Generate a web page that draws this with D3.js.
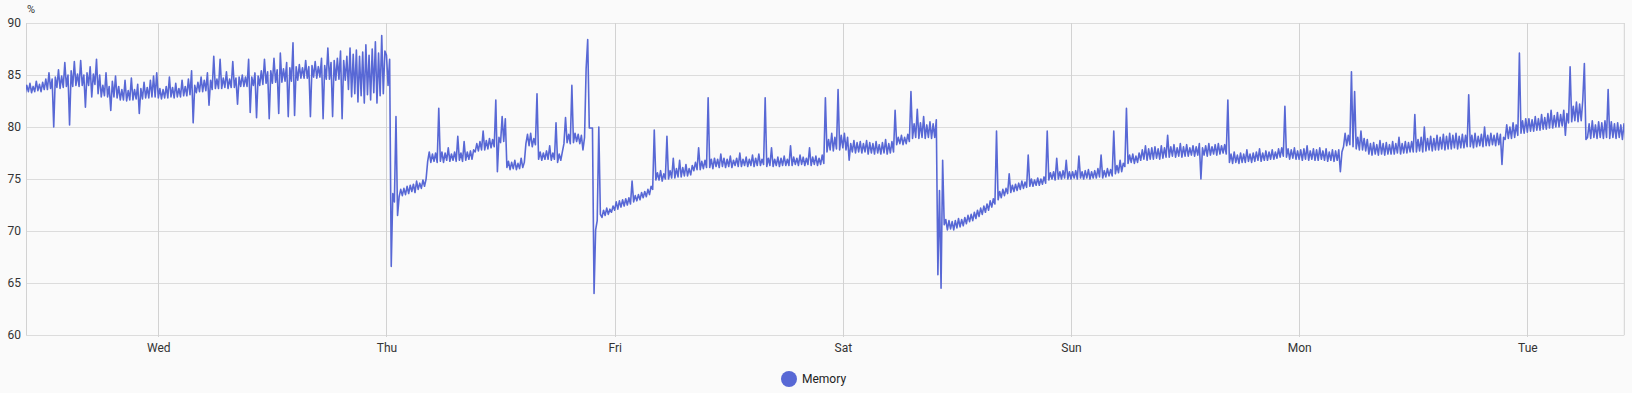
<!DOCTYPE html>
<html>
<head>
<meta charset="utf-8">
<script src="https://cdn.jsdelivr.net/npm/d3@7"></script>
<style>
  body { margin: 0; background: #fafafa; }
  svg { display: block; font-family: Roboto, "Noto Sans", sans-serif; }
</style>
</head>
<body>
<svg id="chart" width="1632" height="393"></svg>
<script>
// readings every 10 minutes
const sampleMinutes = 10;
const seriesStart = new Date(2024, 0, 2, 10, 0);   // Tue 10:00
const domainStart = new Date(2024, 0, 2, 10, 5);
const domainEnd = new Date(2024, 0, 9, 10, 12);
const yTicks = [60, 65, 70, 75, 80, 85, 90];
const seriesName = 'Memory';
const unitLabel = '%';

const tue1 = [
  83.2, 84.0, 83.4, 84.2, 83.3, 83.9, 83.4, 84.4, 83.5, 84.1, 83.4, 84.3, 83.6, 84.6, 83.6, 85.2, 83.7, 84.6, 80.0, 84.8,
  83.8, 85.5, 83.7, 84.9, 83.8, 86.2, 83.9, 85.0, 80.2, 85.4, 83.9, 86.3, 84.0, 85.1, 83.9, 86.4, 84.0, 85.0, 81.9, 85.2,
  84.0, 85.8, 82.9, 85.1, 84.1, 86.5, 83.2, 85.0, 82.9, 84.0, 83.0, 85.2, 82.9, 83.9, 81.6, 84.4, 82.9, 84.9, 82.8, 83.9,
  82.6, 83.6, 82.6, 84.5, 82.5, 83.5, 82.6, 84.7, 82.6, 83.6, 82.7, 84.1, 81.3, 83.7, 82.7, 84.3, 82.8, 83.8, 82.8, 84.5,
  82.9, 84.9, 82.9, 85.2];
const wed = [
  82.8, 83.7, 82.7, 83.6, 82.8, 83.9, 82.8, 84.8, 82.9, 83.8, 82.8, 84.2, 82.9, 83.7, 82.9, 84.5, 83.0, 83.9, 83.0, 84.6,
  83.1, 85.4, 80.4, 84.0, 83.3, 84.3, 83.4, 84.8, 83.4, 84.5, 83.5, 85.2, 82.1, 84.5, 83.6, 86.8, 83.7, 84.6, 83.7, 86.5,
  83.7, 84.7, 83.8, 85.3, 83.7, 84.6, 83.8, 86.3, 83.8, 84.7, 82.2, 84.8, 83.9, 85.0, 83.9, 84.8, 83.9, 86.5, 81.4, 84.8,
  84.0, 85.2, 80.9, 84.9, 84.0, 85.4, 84.1, 86.5, 84.2, 85.3, 80.8, 85.4, 84.2, 86.6, 84.3, 85.5, 81.3, 87.1, 84.3, 85.6,
  84.4, 86.2, 81.0, 85.7, 84.4, 88.1, 81.1, 85.8, 84.5, 86.0, 84.7, 85.7, 84.7, 86.4, 84.7, 85.8, 81.0, 85.9, 84.8, 86.3,
  84.7, 85.8, 84.8, 86.6, 80.8, 85.9, 84.6, 87.6, 84.6, 86.2, 81.0, 86.4, 84.5, 86.6, 84.6, 87.3, 80.8, 86.4, 84.5, 86.8,
  83.6, 87.6, 82.9, 87.0, 83.2, 87.4, 82.4, 86.8, 83.0, 87.2, 82.3, 87.9, 83.1, 86.9, 82.6, 87.5, 83.3, 88.2, 82.3, 87.1,
  83.0, 88.8, 83.2, 87.3];
const thu = [
  86.9, 84.0, 86.5, 66.6, 73.6, 72.8, 81.0, 71.5, 73.3, 74.0, 73.4, 74.1, 73.5, 74.3, 73.6, 74.4, 73.8, 74.5, 73.7, 74.8,
  74.0, 74.6, 74.1, 74.9, 74.3, 75.0, 76.7, 77.6, 76.6, 77.4, 76.7, 77.5, 76.6, 81.8, 76.7, 77.6, 76.6, 77.5, 76.8, 78.0,
  76.7, 77.4, 76.8, 77.6, 76.7, 79.1, 76.8, 77.5, 76.7, 78.6, 76.8, 77.6, 76.9, 77.7, 76.9, 77.8, 77.6, 78.4, 77.7, 78.6,
  77.8, 79.6, 77.8, 78.7, 77.9, 78.9, 78.0, 78.8, 78.1, 82.6, 75.7, 79.0, 78.5, 81.0, 78.6, 80.8, 76.1, 76.7, 75.9, 76.6,
  76.0, 76.8, 75.9, 76.5, 76.0, 77.0, 76.1, 76.6, 78.4, 79.3, 78.2, 79.4, 78.1, 78.9, 78.3, 83.2, 76.9, 77.6, 76.8, 77.5,
  76.9, 77.7, 76.9, 78.2, 76.8, 77.5, 76.9, 80.4, 76.6, 77.4, 76.8, 77.6, 78.4, 80.9, 78.5, 79.3, 78.4, 84.0, 78.5, 79.4,
  78.6, 79.3, 78.4, 79.2, 77.8, 79.0, 85.6, 88.4, 79.9, 79.9, 79.9, 64.0, 70.1, 71.0, 80.0, 71.6, 71.3, 72.0, 71.5, 72.2,
  71.6, 72.1, 71.8, 72.4];
const fri = [
  72.0, 72.8, 72.1, 72.9, 72.3, 73.0, 72.4, 73.1, 72.5, 73.2, 72.6, 74.8, 72.8, 73.4, 72.9, 73.5, 73.0, 73.7, 73.2, 73.8,
  73.3, 74.0, 73.5, 74.3, 74.0, 79.7, 74.9, 75.6, 74.9, 75.8, 74.8, 75.5, 75.0, 79.1, 75.0, 75.8, 75.1, 77.0, 75.1, 76.0,
  75.2, 76.8, 75.2, 76.1, 75.3, 76.4, 75.3, 76.0, 75.4, 76.3, 75.8, 76.6, 75.9, 78.0, 75.9, 76.7, 76.0, 76.8, 76.1, 82.8,
  76.1, 76.9, 76.0, 77.0, 76.2, 76.9, 76.1, 77.4, 76.2, 77.0, 76.1, 76.9, 76.2, 77.2, 76.1, 76.8, 76.3, 77.0, 76.2, 77.5,
  76.2, 76.9, 76.3, 77.1, 76.2, 76.9, 76.3, 77.3, 76.2, 77.0, 76.3, 77.4, 76.3, 76.9, 76.4, 82.8, 76.2, 77.0, 76.3, 78.0,
  76.2, 76.9, 76.3, 77.1, 76.2, 77.0, 76.3, 77.2, 76.3, 76.9, 76.3, 78.2, 76.3, 77.1, 76.4, 77.0, 76.3, 77.3, 76.4, 77.1,
  76.3, 77.0, 76.4, 78.0, 76.3, 77.1, 76.4, 77.2, 76.3, 77.0, 76.4, 77.3, 76.5, 82.8, 77.6, 78.8, 77.8, 79.4, 77.7, 79.0,
  77.9, 83.6, 77.8, 79.2];
const sat = [
  78.0, 79.4, 77.8, 79.0, 76.8, 78.4, 77.6, 78.7, 77.5, 78.5, 77.6, 78.6, 77.5, 78.4, 77.6, 78.7, 77.4, 78.5, 77.5, 78.4,
  77.4, 78.6, 77.5, 78.3, 77.4, 78.5, 77.5, 78.8, 77.4, 78.4, 77.5, 78.6, 77.6, 81.6, 78.3, 79.0, 78.4, 79.2, 78.3, 79.0,
  78.4, 79.3, 78.6, 83.4, 78.9, 80.3, 79.0, 81.7, 78.9, 80.4, 79.0, 81.0, 78.9, 80.2, 79.0, 80.5, 78.9, 80.3, 79.0, 80.7,
  65.8, 73.9, 64.5, 76.8, 70.6, 71.1, 70.1, 71.0, 70.2, 70.9, 70.1, 71.0, 70.3, 71.2, 70.4, 71.1, 70.5, 71.3, 70.7, 71.5,
  70.9, 71.6, 71.0, 71.8, 71.2, 72.0, 71.4, 72.2, 71.6, 72.4, 71.8, 72.6, 72.0, 72.9, 72.3, 73.1, 72.6, 79.6, 73.0, 73.8,
  73.2, 74.0, 73.4, 74.1, 73.6, 75.5, 73.7, 74.4, 73.8, 74.5, 73.9, 74.6, 74.0, 74.8, 74.1, 74.7, 74.2, 77.3, 74.3, 75.0,
  74.3, 74.9, 74.4, 75.1, 74.4, 75.0, 74.5, 75.2, 74.6, 79.6, 74.9, 75.6, 75.0, 75.7, 74.9, 77.0, 75.0, 75.7, 75.0, 75.8,
  75.1, 76.8, 75.0, 75.7];
const sun = [
  75.0, 75.7, 75.1, 75.8, 75.0, 77.2, 75.1, 75.7, 75.0, 75.8, 75.1, 75.9, 75.0, 75.7, 75.1, 75.8, 75.1, 76.0, 75.2, 77.3,
  75.1, 75.8, 75.2, 76.0, 75.3, 75.9, 75.3, 79.6, 75.5, 76.3, 75.6, 76.8, 75.7, 76.5, 76.2, 81.8, 76.5, 77.3, 76.6, 77.4,
  76.5, 77.2, 76.6, 77.5, 76.8, 77.8, 76.9, 78.2, 76.8, 77.9, 76.9, 78.0, 76.9, 78.1, 77.0, 77.9, 76.9, 78.2, 77.0, 78.0,
  77.1, 79.2, 77.1, 78.1, 77.2, 78.3, 77.1, 78.0, 77.2, 78.4, 77.1, 78.1, 77.2, 78.3, 77.2, 78.0, 77.3, 78.2, 77.2, 78.1,
  77.3, 78.4, 75.0, 78.0, 77.3, 78.2, 77.2, 78.4, 77.3, 78.1, 77.4, 78.3, 77.3, 78.4, 77.4, 78.2, 77.5, 78.3, 77.4, 82.6,
  76.6, 77.4, 76.5, 77.6, 76.6, 77.3, 76.5, 77.5, 76.6, 77.4, 76.6, 77.8, 76.7, 77.4, 76.6, 77.5, 76.7, 77.6, 76.8, 77.9,
  76.7, 77.5, 76.8, 77.7, 76.8, 77.6, 76.9, 77.8, 76.9, 77.6, 77.0, 77.9, 77.1, 78.0, 77.2, 82.0, 77.1, 77.9, 76.9, 77.8,
  77.0, 78.0, 76.9, 77.7];
const mon = [
  76.9, 77.8, 76.8, 77.9, 76.9, 78.2, 76.8, 77.7, 76.9, 77.9, 76.8, 77.8, 76.8, 78.0, 76.9, 77.7, 76.8, 77.9, 76.7, 77.6,
  76.8, 77.8, 76.7, 77.7, 76.8, 77.8, 75.7, 77.6, 78.1, 79.4, 78.2, 79.2, 78.3, 85.3, 78.1, 83.4, 77.9, 79.0, 77.8, 79.6,
  77.8, 78.9, 77.7, 78.8, 77.4, 78.4, 77.3, 78.5, 77.4, 78.3, 77.3, 78.7, 77.4, 78.4, 77.3, 78.5, 77.4, 78.3, 77.4, 78.6,
  77.4, 78.4, 77.5, 79.0, 77.4, 78.4, 77.5, 78.6, 77.5, 78.5, 77.6, 78.6, 77.6, 81.2, 77.6, 78.8, 77.7, 79.0, 77.6, 80.0,
  77.7, 78.9, 77.8, 79.1, 77.7, 78.9, 77.8, 79.2, 77.8, 79.0, 77.9, 79.3, 77.8, 79.1, 77.9, 79.4, 77.9, 79.2, 78.0, 79.4,
  77.9, 79.1, 78.0, 79.3, 78.0, 79.2, 78.1, 83.1, 78.1, 79.2, 78.0, 79.4, 78.1, 79.1, 78.2, 79.3, 78.1, 80.0, 78.2, 79.2,
  78.2, 79.4, 78.3, 79.2, 78.2, 79.4, 78.3, 79.3, 76.4, 79.0, 78.8, 80.2, 78.9, 80.0, 78.9, 80.4, 79.0, 80.2, 79.2, 87.1,
  79.4, 80.6, 79.4, 80.8];
const tue2 = [
  79.5, 80.8, 79.6, 80.7, 79.6, 81.0, 79.7, 80.8, 79.7, 81.2, 79.8, 80.9, 79.8, 81.3, 79.9, 81.6, 79.9, 81.1, 80.0, 81.4,
  80.0, 81.2, 80.1, 81.6, 79.2, 81.3, 80.4, 85.8, 80.5, 82.0, 80.6, 82.4, 80.5, 82.2, 80.6, 82.6, 86.1, 78.8, 79.0, 80.3,
  78.9, 80.6, 79.0, 80.2, 78.9, 80.5, 79.0, 80.4, 78.9, 80.6, 79.0, 83.6, 78.9, 80.5, 79.0, 80.3, 78.9, 80.4, 79.0, 80.2,
  78.8, 80.3, 78.9, 80.1];

const segments = [tue1, wed, thu, fri, sat, sun, mon, tue2];

// first segment starts at Tue 10:00, the rest at each following midnight
const data = [];
segments.forEach((vals, k) => {
  const start = k === 0 ? seriesStart : d3.timeDay.offset(d3.timeDay.floor(seriesStart), k);
  vals.forEach((v, i) => data.push({ t: d3.timeMinute.offset(start, i * sampleMinutes), v: v }));
});

const color = '#5868d5';
const plotLeft = 26, plotRight = 1624.3, plotTop = 23, plotBottom = 335;

const x = d3.scaleTime().domain([domainStart, domainEnd]).range([plotLeft, plotRight]);
const y = d3.scaleLinear().domain([60, 90]).range([plotBottom, plotTop]);

const svg = d3.select('#chart');

// grid
const grid = svg.append('g');
grid.selectAll('line.h')
  .data(yTicks)
  .join('line')
  .attr('class', 'h')
  .attr('x1', plotLeft).attr('x2', plotRight)
  .attr('y1', d => y(d) + 0.5).attr('y2', d => y(d) + 0.5)
  .attr('stroke', '#dcdcdc');

const days = x.ticks(d3.timeDay.every(1));
grid.selectAll('line.v')
  .data(days)
  .join('line')
  .attr('class', 'v')
  .attr('x1', d => Math.round(x(d)) + 0.5).attr('x2', d => Math.round(x(d)) + 0.5)
  .attr('y1', plotTop).attr('y2', plotBottom + 2)
  .attr('stroke', '#d2d2d2');

grid.append('line')
  .attr('x1', plotLeft + 0.5).attr('x2', plotLeft + 0.5)
  .attr('y1', plotTop).attr('y2', plotBottom)
  .attr('stroke', '#d2d2d2');
grid.append('line')
  .attr('x1', plotRight).attr('x2', plotRight)
  .attr('y1', plotTop).attr('y2', plotBottom)
  .attr('stroke', '#d2d2d2');

// axes (labels only)
const yAxis = svg.append('g')
  .attr('transform', `translate(${plotLeft},0)`)
  .call(d3.axisLeft(y).tickValues(yTicks).tickSize(0).tickPadding(5));
yAxis.select('.domain').remove();
yAxis.selectAll('text').attr('fill', '#333').attr('font-size', 12).attr('font-family', 'Roboto, sans-serif');

const xAxis = svg.append('g')
  .attr('transform', `translate(0,${plotBottom})`)
  .call(d3.axisBottom(x).ticks(d3.timeDay.every(1)).tickFormat(d3.timeFormat('%a')).tickSize(0).tickPadding(8));
xAxis.select('.domain').remove();
xAxis.selectAll('text').attr('fill', '#333').attr('font-size', 12).attr('font-family', 'Roboto, sans-serif');

svg.append('text')
  .attr('x', 27).attr('y', 13)
  .attr('font-size', 11)
  .attr('fill', '#333')
  .text(unitLabel);

// line
svg.append('clipPath').attr('id', 'plot-clip')
  .append('rect').attr('x', plotLeft).attr('y', 0).attr('width', plotRight - plotLeft).attr('height', plotBottom);

const line = d3.line()
  .x(d => x(d.t))
  .y(d => y(d.v));

svg.append('path')
  .datum(data)
  .attr('clip-path', 'url(#plot-clip)')
  .attr('d', line)
  .attr('fill', 'none')
  .attr('stroke', color)
  .attr('stroke-width', 1.6)
  .attr('stroke-linejoin', 'round');

// legend
const legend = svg.append('g').attr('transform', 'translate(789,379)');
legend.append('circle').attr('r', 8).attr('fill', color);
legend.append('text')
  .attr('x', 13).attr('y', 4)
  .attr('font-size', 12)
  .attr('fill', '#222')
  .text(seriesName);
</script>
</body>
</html>
